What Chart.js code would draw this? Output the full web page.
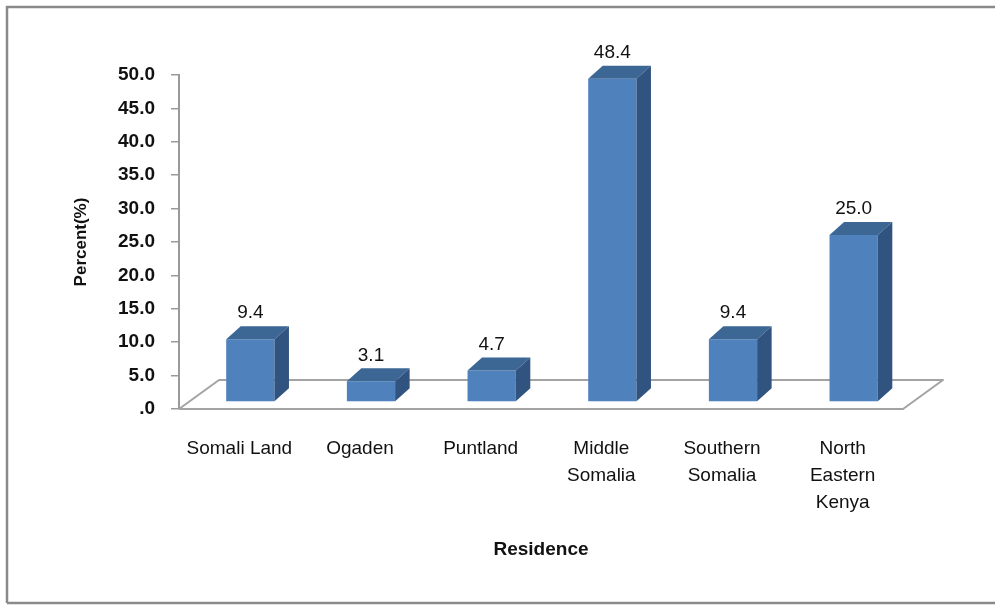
<!DOCTYPE html>
<html>
<head>
<meta charset="utf-8">
<script src="https://cdn.jsdelivr.net/npm/chart.js@4.4.1/dist/chart.umd.min.js"></script>
<style>
  html, body { margin: 0; padding: 0; background: #ffffff; }
  #wrap { width: 995px; height: 605px; position: relative; }
</style>
</head>
<body>
<div id="wrap"><canvas id="chart" width="995" height="605"></canvas></div>
<script>
// Residence categories (multi-line labels as drawn under the floor)
const categories = [
  ['Somali Land'],
  ['Ogaden'],
  ['Puntland'],
  ['Middle', 'Somalia'],
  ['Southern', 'Somalia'],
  ['North', 'Eastern', 'Kenya']
];
// Share of respondents per residence, in percent
const percentValues = [9.4, 3.1, 4.7, 48.4, 9.4, 25.0];
// Value axis range and tick spacing
const yMin = 0;
const yMax = 50;
const yStep = 5;
const yTitle = 'Percent(%)';
const xTitle = 'Residence';

// Look of the extruded bars and floor
const FRONT = '#4f81bd';
const TOP = '#3c6795';
const SIDE = '#30537f';
const LINE_GREY = '#a3a3a3';
const BAR_SHIFT = { x: 11, y: -7 };     // bars stand a little back on the floor
const BAR_DEPTH = { x: 14.5, y: -13 };  // extrusion of each bar
const FLOOR_DEPTH = { x: 40, y: -29 };  // depth of the floor plane

const FONT = "'Liberation Sans', Arial, sans-serif";

const frame = {
  id: 'frame',
  beforeDraw(chart) {
    const ctx = chart.ctx;
    ctx.save();
    ctx.fillStyle = '#ffffff';
    ctx.fillRect(0, 0, chart.width, chart.height);
    ctx.strokeStyle = '#8a8a8a';
    ctx.lineWidth = 2.5;
    ctx.beginPath();
    ctx.moveTo(7, chart.height - 2);
    ctx.lineTo(7, 7);
    ctx.lineTo(chart.width, 7);
    ctx.moveTo(7, chart.height - 2);
    ctx.lineTo(chart.width, chart.height - 2);
    ctx.stroke();
    ctx.restore();
  }
};

const bars3d = {
  id: 'bars3d',
  beforeDatasetsDraw(chart) {
    const ctx = chart.ctx;
    const a = chart.chartArea;
    // floor plane
    ctx.save();
    ctx.strokeStyle = LINE_GREY;
    ctx.lineWidth = 2;
    ctx.lineJoin = 'round';
    ctx.beginPath();
    ctx.moveTo(a.left, a.bottom);
    ctx.lineTo(a.left + FLOOR_DEPTH.x, a.bottom + FLOOR_DEPTH.y);
    ctx.lineTo(a.right + FLOOR_DEPTH.x, a.bottom + FLOOR_DEPTH.y);
    ctx.lineTo(a.right, a.bottom);
    ctx.lineTo(a.left, a.bottom);
    ctx.stroke();
    ctx.restore();
    // front faces are drawn by the bar controller, set back on the floor
    ctx.save();
    ctx.translate(BAR_SHIFT.x, BAR_SHIFT.y);
  },
  afterDatasetsDraw(chart) {
    const ctx = chart.ctx;
    ctx.restore();
    const meta = chart.getDatasetMeta(0);
    const data = chart.data.datasets[0].data;
    meta.data.forEach((bar, i) => {
      const p = bar.getProps(['x', 'y', 'base', 'width'], true);
      const l = p.x - p.width / 2 + BAR_SHIFT.x;
      const r = p.x + p.width / 2 + BAR_SHIFT.x;
      const t = p.y + BAR_SHIFT.y;
      const b = p.base + BAR_SHIFT.y;
      const dx = BAR_DEPTH.x, dy = BAR_DEPTH.y;
      ctx.save();
      // top face
      ctx.fillStyle = TOP;
      ctx.beginPath();
      ctx.moveTo(l, t);
      ctx.lineTo(l + dx, t + dy);
      ctx.lineTo(r + dx, t + dy);
      ctx.lineTo(r, t);
      ctx.closePath();
      ctx.fill();
      // side face
      ctx.fillStyle = SIDE;
      ctx.beginPath();
      ctx.moveTo(r, t);
      ctx.lineTo(r + dx, t + dy);
      ctx.lineTo(r + dx, b + dy);
      ctx.lineTo(r, b);
      ctx.closePath();
      ctx.fill();
      // value label
      ctx.fillStyle = '#111111';
      ctx.font = '19px ' + FONT;
      ctx.textAlign = 'center';
      ctx.textBaseline = 'middle';
      ctx.fillText(Number(data[i]).toFixed(1), (l + r) / 2, t + dy - 13);
      ctx.restore();
    });
  }
};

new Chart(document.getElementById('chart'), {
  type: 'bar',
  data: {
    labels: categories,
    datasets: [{
      data: percentValues,
      backgroundColor: FRONT,
      borderWidth: 0,
      barPercentage: 0.4,
      categoryPercentage: 1.0
    }]
  },
  options: {
    responsive: false,
    animation: false,
    devicePixelRatio: 1,
    layout: { padding: { top: 75, right: 92, bottom: 0, left: 0 } },
    plugins: {
      legend: { display: false },
      tooltip: { enabled: false }
    },
    scales: {
      x: {
        offset: true,
        border: { display: false },
        grid: { display: false, drawTicks: false },
        ticks: {
          color: '#111111',
          padding: 26,
          maxRotation: 0,
          autoSkip: false,
          font: { family: FONT, size: 19, lineHeight: 1.42 }
        },
        title: {
          display: true,
          text: xTitle,
          color: '#111111',
          font: { family: FONT, size: 19, weight: 'bold' },
          padding: { top: 0, bottom: 44 }
        },
        afterFit(scale) { scale.height = 196; }
      },
      y: {
        min: yMin,
        max: yMax,
        border: { display: true, color: '#9a9a9a', width: 2 },
        grid: { drawOnChartArea: false, drawTicks: true, tickLength: 8, color: '#9a9a9a', lineWidth: 1.5 },
        ticks: {
          stepSize: yStep,
          padding: 16,
          color: '#111111',
          font: { family: FONT, size: 19, weight: 'bold' },
          callback: (v) => (v === 0 ? '.0' : Number(v).toFixed(1))
        },
        title: {
          display: true,
          text: yTitle,
          color: '#111111',
          font: { family: FONT, size: 17, weight: 'bold' },
          padding: { top: 71, bottom: 0 }
        },
        afterFit(scale) { scale.width = 179; }
      }
    }
  },
  plugins: [frame, bars3d]
});
</script>
</body>
</html>
